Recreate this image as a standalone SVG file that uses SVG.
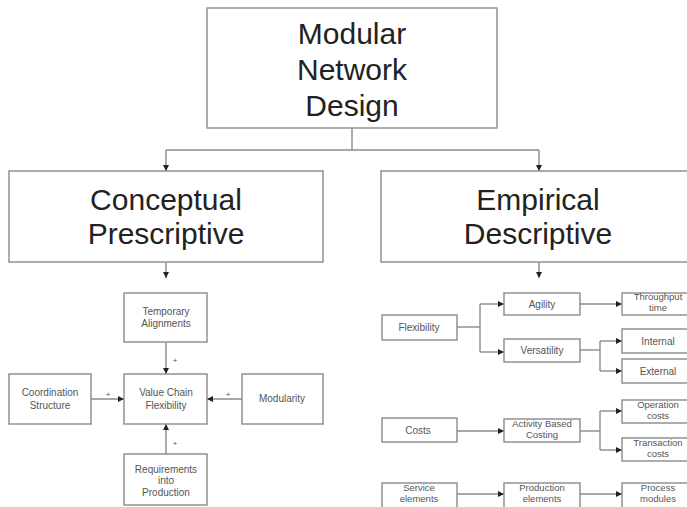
<svg xmlns="http://www.w3.org/2000/svg" width="687" height="507" viewBox="0 0 687 507">
  <style>
    .box { fill: #fff; stroke: #8a8a8a; stroke-width: 1.4; }
    .wire { fill: none; stroke: #8a8a8a; stroke-width: 1.4; }
    .big { font-family: "Liberation Sans", Arial, sans-serif; font-size: 30px; fill: #222; text-anchor: middle; }
    .small { font-family: "Liberation Sans", Arial, sans-serif; font-size: 10px; fill: #555; text-anchor: middle; }
    .tight { font-size: 9.5px; }
    .sign { font-family: "Liberation Sans", Arial, sans-serif; font-size: 8px; fill: #555; text-anchor: middle; }
  </style>
  <defs>
    <marker id="tip" markerUnits="userSpaceOnUse" markerWidth="6" markerHeight="6" refX="6" refY="3" orient="auto">
      <path d="M0,0 L6,3 L0,6 z" fill="#222"/>
    </marker>
  </defs>
  <rect width="687" height="507" fill="#fff"/>

  <!-- connectors -->
  <g id="connectors" class="wire" marker-end="url(#tip)">
    <path d="M352,128 V150" marker-end="none"/>
    <path d="M166,150 H539" marker-end="none"/>
    <path d="M166,150 V171"/>
    <path d="M539,150 V171"/>
    <path d="M166,262 V278"/>
    <path d="M539,262 V278"/>

    <!-- conceptual cluster -->
    <path d="M166,342 V374"/>
    <path d="M91,399 H124"/>
    <path d="M242,399 H207"/>
    <path d="M166,454 V424"/>

    <!-- flexibility tree -->
    <path d="M457,327 H480" marker-end="none"/>
    <path d="M480,304 V352" marker-end="none"/>
    <path d="M480,304 H504"/>
    <path d="M480,352 H504"/>
    <path d="M580,304 H622"/>
    <path d="M580,350 H600" marker-end="none"/>
    <path d="M600,341 V371" marker-end="none"/>
    <path d="M600,341 H622"/>
    <path d="M600,371 H622"/>

    <!-- costs tree -->
    <path d="M457,431 H504"/>
    <path d="M580,431 H600" marker-end="none"/>
    <path d="M600,411 V450" marker-end="none"/>
    <path d="M600,411 H622"/>
    <path d="M600,450 H622"/>

    <!-- elements row -->
    <path d="M457,494 H504"/>
    <path d="M580,494 H622"/>
  </g>

  <!-- relation signs -->
  <g id="signs">
    <text class="sign" x="175" y="363">+</text>
    <text class="sign" x="108" y="397">+</text>
    <text class="sign" x="228" y="397">+</text>
    <text class="sign" x="175" y="446">+</text>
  </g>

  <g id="modular-network-design">
    <rect class="box" x="207" y="8" width="290" height="120"/>
    <text class="big" x="352" y="44">Modular</text>
    <text class="big" x="352" y="80">Network</text>
    <text class="big" x="352" y="116">Design</text>
  </g>

  <g id="conceptual-prescriptive">
    <rect class="box" x="9" y="171" width="314" height="91"/>
    <text class="big" x="166" y="210">Conceptual</text>
    <text class="big" x="166" y="244">Prescriptive</text>
  </g>

  <g id="empirical-descriptive">
    <rect class="box" x="381" y="171" width="316" height="91"/>
    <text class="big" x="538" y="210">Empirical</text>
    <text class="big" x="538" y="244">Descriptive</text>
  </g>

  <g id="temporary-alignments">
    <rect class="box" x="124" y="293" width="83" height="49"/>
    <text class="small" x="166" y="315">Temporary</text>
    <text class="small" x="166" y="327">Alignments</text>
  </g>

  <g id="value-chain-flexibility">
    <rect class="box" x="124" y="374" width="83" height="50"/>
    <text class="small" x="166" y="396">Value Chain</text>
    <text class="small" x="166" y="409">Flexibility</text>
  </g>

  <g id="coordination-structure">
    <rect class="box" x="9" y="374" width="82" height="50"/>
    <text class="small" x="50" y="396">Coordination</text>
    <text class="small" x="50" y="409">Structure</text>
  </g>

  <g id="modularity">
    <rect class="box" x="242" y="374" width="81" height="50"/>
    <text class="small" x="282" y="402">Modularity</text>
  </g>

  <g id="requirements-into-production">
    <rect class="box" x="124" y="454" width="83" height="51"/>
    <text class="small" x="166" y="473">Requirements</text>
    <text class="small" x="166" y="484">into</text>
    <text class="small" x="166" y="496">Production</text>
  </g>

  <g id="flexibility">
    <rect class="box" x="382" y="315" width="75" height="25"/>
    <text class="small" x="419" y="331">Flexibility</text>
  </g>

  <g id="agility">
    <rect class="box" x="504" y="293" width="76" height="22"/>
    <text class="small" x="542" y="308">Agility</text>
  </g>

  <g id="throughput-time">
    <rect class="box" x="622" y="293" width="75" height="22"/>
    <text class="small tight" x="658" y="300">Throughput</text>
    <text class="small tight" x="658" y="311">time</text>
  </g>

  <g id="versatility">
    <rect class="box" x="504" y="339" width="76" height="23"/>
    <text class="small" x="542" y="354">Versatility</text>
  </g>

  <g id="internal">
    <rect class="box" x="622" y="329" width="75" height="24"/>
    <text class="small" x="658" y="345">Internal</text>
  </g>

  <g id="external">
    <rect class="box" x="622" y="359" width="75" height="24"/>
    <text class="small" x="658" y="375">External</text>
  </g>

  <g id="costs">
    <rect class="box" x="382" y="418" width="75" height="24"/>
    <text class="small" x="418" y="434">Costs</text>
  </g>

  <g id="activity-based-costing">
    <rect class="box" x="504" y="419" width="76" height="23"/>
    <text class="small tight" x="542" y="427">Activity Based</text>
    <text class="small tight" x="542" y="438">Costing</text>
  </g>

  <g id="operation-costs">
    <rect class="box" x="622" y="400" width="75" height="23"/>
    <text class="small tight" x="658" y="408">Operation</text>
    <text class="small tight" x="658" y="419">costs</text>
  </g>

  <g id="transaction-costs">
    <rect class="box" x="622" y="438" width="75" height="23"/>
    <text class="small tight" x="658" y="446">Transaction</text>
    <text class="small tight" x="658" y="457">costs</text>
  </g>

  <g id="service-elements">
    <rect class="box" x="382" y="483" width="75" height="26"/>
    <text class="small tight" x="419" y="491">Service</text>
    <text class="small tight" x="419" y="502">elements</text>
  </g>

  <g id="production-elements">
    <rect class="box" x="504" y="483" width="76" height="26"/>
    <text class="small tight" x="542" y="491">Production</text>
    <text class="small tight" x="542" y="502">elements</text>
  </g>

  <g id="process-modules">
    <rect class="box" x="622" y="483" width="75" height="26"/>
    <text class="small tight" x="658" y="491">Process</text>
    <text class="small tight" x="658" y="502">modules</text>
  </g>
</svg>
